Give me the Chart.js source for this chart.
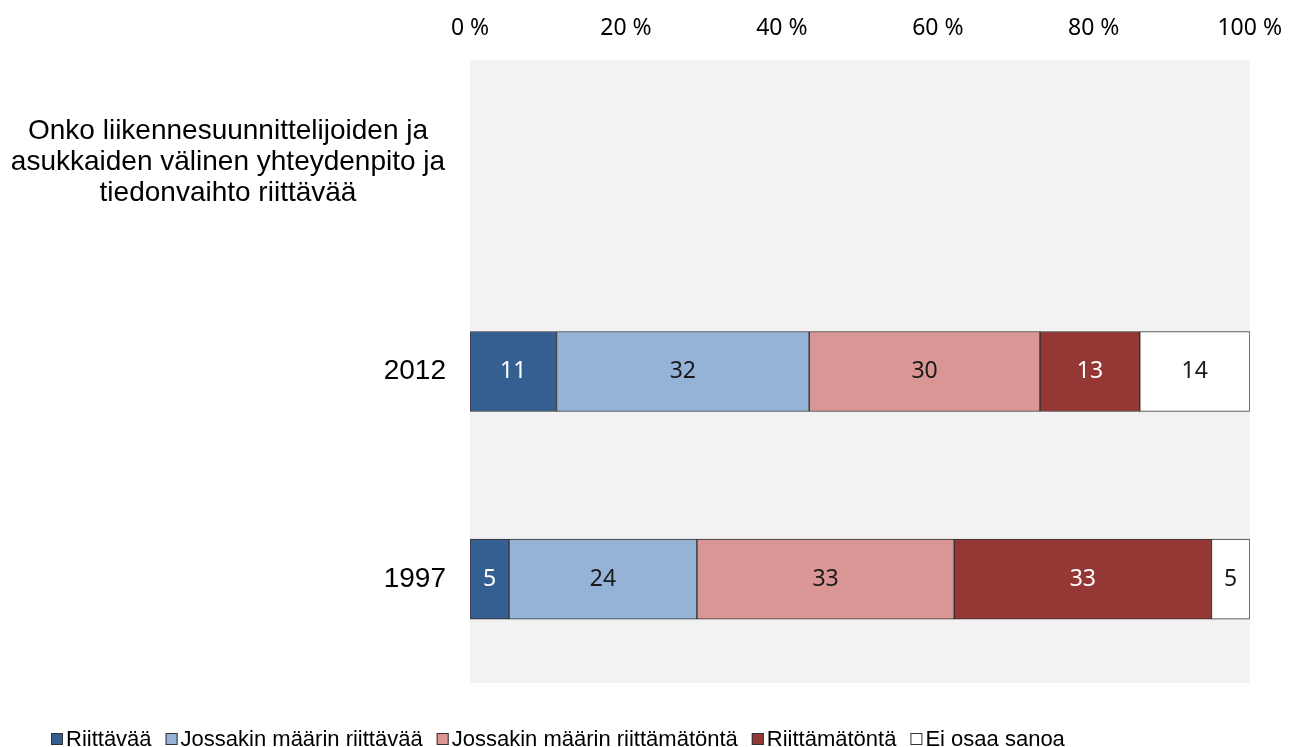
<!DOCTYPE html>
<html>
<head>
<meta charset="utf-8">
<script src="https://cdn.jsdelivr.net/npm/chart.js@4"></script>
<style>
  html, body { margin: 0; padding: 0; background: #fff; }
  #wrap { width: 1300px; height: 747px; }
</style>
</head>
<body>
<div id="wrap"><canvas id="myChart" width="1300" height="747"></canvas></div>
<script>
// data (percent)
var categories = [
    ['Onko liikennesuunnittelijoiden ja', 'asukkaiden välinen yhteydenpito ja', 'tiedonvaihto riittävää'],
    '2012',
    '1997'
];
var seriesNames = [
    'Riittävää',
    'Jossakin määrin riittävää',
    'Jossakin määrin riittämätöntä',
    'Riittämätöntä',
    'Ei osaa sanoa'
];
var riittavaa = [null, 11.1, 5.0];
var jossakinRiittavaa = [null, 32.4, 24.1];
var jossakinRiittamatonta = [null, 29.6, 33.0];
var riittamatonta = [null, 12.8, 33.0];
var eiOsaa = [null, 14.1, 4.9];
var xTicks = [0, 20, 40, 60, 80, 100];

var colors = ['#365f91', '#95b3d7', '#d99694', '#953735', '#ffffff'];
var labelColors = ['#ffffff', '#1a1a1a', '#1a1a1a', '#ffffff', '#1a1a1a'];
var values = [riittavaa, jossakinRiittavaa, jossakinRiittamatonta, riittamatonta, eiOsaa];

var numFont = "'Noto Sans', 'Open Sans', sans-serif";
var textFont = "'Liberation Sans', Arial, sans-serif";

var plotBg = {
    id: 'plotBg',
    beforeDraw: function (chart) {
        var a = chart.chartArea, c = chart.ctx;
        c.save();
        c.fillStyle = '#f2f2f2';
        c.fillRect(a.left, a.top, a.right - a.left, a.bottom - a.top);
        c.restore();
    }
};

// y labels: multi-line one centred, years right aligned
var yLabels = {
    id: 'yLabels',
    afterDraw: function (chart) {
        var c = chart.ctx, y = chart.scales.y;
        c.save();
        c.fillStyle = '#000';
        c.font = '28px ' + textFont;
        c.textBaseline = 'middle';
        categories.forEach(function (lab, i) {
            var py = y.getPixelForValue(i);
            if (Array.isArray(lab)) {
                c.textAlign = 'center';
                var lh = 31;
                var y0 = py - 2 - (lab.length - 1) * lh / 2;
                lab.forEach(function (l, j) { c.fillText(l, 228, y0 + j * lh); });
            } else {
                c.textAlign = 'right';
                c.fillText(lab, 446, py);
            }
        });
        c.restore();
    }
};

var barValues = {
    id: 'barValues',
    afterDatasetsDraw: function (chart) {
        var c = chart.ctx;
        c.save();
        c.font = '23px ' + numFont;
        c.textAlign = 'center';
        c.textBaseline = 'middle';
        chart.data.datasets.forEach(function (ds, di) {
            chart.getDatasetMeta(di).data.forEach(function (bar, i) {
                var v = ds.data[i];
                if (v == null) return;
                c.fillStyle = labelColors[di];
                c.fillText(String(Math.round(v)), (bar.x + bar.base) / 2, bar.y);
            });
        });
        c.restore();
    }
};

var legendBottom = {
    id: 'legendBottom',
    afterDraw: function (chart) {
        var c = chart.ctx;
        c.save();
        c.font = '22px ' + textFont;
        c.textBaseline = 'middle';
        c.textAlign = 'left';
        var x = 51, y = 739;
        chart.data.datasets.forEach(function (ds, i) {
            c.fillStyle = colors[i];
            c.fillRect(x, y - 6, 12, 12);
            c.strokeStyle = '#333';
            c.lineWidth = 1;
            c.strokeRect(x + 0.5, y - 5.5, 11, 11);
            c.fillStyle = '#000';
            c.fillText(ds.label, x + 15, y + 1);
            x += 15 + c.measureText(ds.label).width + 14;
        });
        c.restore();
    }
};

var ctx = document.getElementById('myChart').getContext('2d');
var myChart = new Chart(ctx, {
    type: 'bar',
    data: {
        labels: categories,
        datasets: seriesNames.map(function (name, i) {
            return {
                label: name,
                data: values[i],
                backgroundColor: colors[i],
                borderColor: '#333333',
                borderWidth: 1,
                borderSkipped: false,
                barThickness: 80
            };
        })
    },
    options: {
        indexAxis: 'y',
        responsive: false,
        animation: false,
        events: [],
        layout: { padding: { left: 0, right: 46, top: 0, bottom: 64 } },
        plugins: {
            legend: { display: false },
            tooltip: { enabled: false }
        },
        scales: {
            x: {
                position: 'top',
                stacked: true,
                min: 0,
                max: 100,
                grid: { display: false, drawTicks: false },
                border: { display: false },
                afterBuildTicks: function (scale) {
                    scale.ticks = xTicks.map(function (v) { return { value: v }; });
                },
                afterFit: function (scale) { scale.height = 60; },
                ticks: {
                    padding: 18,
                    color: '#000',
                    font: { family: numFont, size: 23 },
                    callback: function (v) { return v + ' %'; }
                }
            },
            y: {
                stacked: true,
                grid: { display: false, drawTicks: false },
                border: { display: false },
                ticks: { display: false },
                afterFit: function (scale) { scale.width = 470; }
            }
        }
    },
    plugins: [plotBg, yLabels, barValues, legendBottom]
});
</script>
</body>
</html>
